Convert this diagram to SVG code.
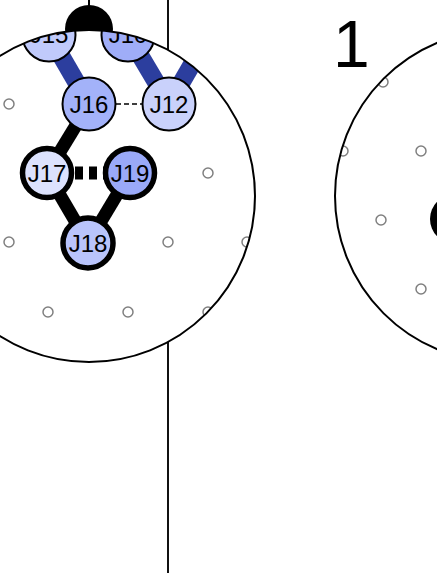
<svg xmlns="http://www.w3.org/2000/svg" width="437" height="573" viewBox="0 0 437 573">
<defs>
<style>
.bg{fill:#fff;stroke:none}
.ol{fill:none;stroke:#000;stroke-width:2}
.dot{fill:#fff;stroke:#808080;stroke-width:1.5}
.nt{stroke:#000;stroke-width:2}
.nk{stroke:#000;stroke-width:5.5}
.lbl{font-family:"Liberation Sans",Arial,sans-serif;font-size:24px;fill:#000;text-anchor:middle}
.band{stroke:#2c3e9e;stroke-width:18;fill:none}
.blk{stroke:#000;stroke-width:13;fill:none}
</style>
<clipPath id="cL"><circle cx="89" cy="196" r="166"/></clipPath>
<clipPath id="cR"><circle cx="501" cy="196" r="166"/></clipPath>
</defs>
<rect width="437" height="573" fill="#fff"/>
<line x1="168" y1="0" x2="168" y2="573" stroke="#111" stroke-width="2"/>
<line x1="89" y1="0" x2="89" y2="29" stroke="#000" stroke-width="2"/>
<circle cx="89" cy="29" r="24" fill="#000"/>
<circle class="bg" cx="89" cy="196" r="166"/>
<circle class="bg" cx="501" cy="196" r="166"/>
<g clip-path="url(#cR)">
<circle class="dot" cx="383" cy="82" r="5"/>
<circle class="dot" cx="343" cy="151" r="5"/>
<circle class="dot" cx="421" cy="151" r="5"/>
<circle class="dot" cx="381" cy="220" r="5"/>
<circle class="dot" cx="421" cy="289" r="5"/>
<circle cx="455" cy="219" r="25" fill="#000"/>
</g>
<g clip-path="url(#cL)">
<g id="dots">
<circle class="dot" cx="9" cy="104" r="5"/>
<circle class="dot" cx="208" cy="173" r="5"/>
<circle class="dot" cx="9" cy="242" r="5"/>
<circle class="dot" cx="168" cy="242" r="5"/>
<circle class="dot" cx="247" cy="242" r="5"/>
<circle class="dot" cx="48" cy="312" r="5"/>
<circle class="dot" cx="128" cy="312" r="5"/>
<circle class="dot" cx="208" cy="312" r="5"/>
</g>
<g id="connectors">
<line class="band" x1="49" y1="35" x2="89" y2="104"/>
<line class="band" x1="128" y1="35" x2="169" y2="104"/>
<line class="band" x1="169" y1="104" x2="209" y2="35"/>
<line x1="116" y1="104" x2="142" y2="104" stroke="#000" stroke-width="1.5" stroke-dasharray="5,3"/>
<line class="blk" x1="89" y1="104" x2="47" y2="173"/>
<line class="blk" x1="47" y1="173" x2="88" y2="243"/>
<line class="blk" x1="130" y1="173" x2="88" y2="243"/>
<line class="blk" x1="73" y1="173" x2="104" y2="173" stroke-width="14" stroke-dasharray="8,6" stroke-dashoffset="-2"/>
</g>
<g id="J15"><circle class="nt" cx="49" cy="35" r="26.5" fill="#c0cafb"/><text class="lbl" x="49" y="43">J15</text></g>
<g id="J10"><circle class="nt" cx="128" cy="35" r="26.5" fill="#9fadf8"/><text class="lbl" x="128" y="43">J10</text></g>
<g id="J16"><circle class="nt" cx="89" cy="104" r="26.5" fill="#a3b2f9"/><text class="lbl" x="89" y="113">J16</text></g>
<g id="J12"><circle class="nt" cx="169" cy="104" r="26.5" fill="#c9d1fb"/><text class="lbl" x="169" y="113">J12</text></g>
<g id="J17"><circle class="nk" cx="47" cy="173" r="24.5" fill="#dce2fd"/><text class="lbl" x="47" y="182">J17</text></g>
<g id="J19"><circle class="nk" cx="130" cy="173" r="24.5" fill="#9aa9f8"/><text class="lbl" x="130" y="182">J19</text></g>
<g id="J18"><circle class="nk" cx="88" cy="243" r="25" fill="#b9c4fb"/><text class="lbl" x="88" y="252">J18</text></g>
</g>
<circle class="ol" cx="89" cy="196" r="166"/>
<circle class="ol" cx="501" cy="196" r="166"/>
<text x="333" y="67" font-family="'Liberation Sans',Arial,sans-serif" font-size="66" fill="#000">1</text>
</svg>
